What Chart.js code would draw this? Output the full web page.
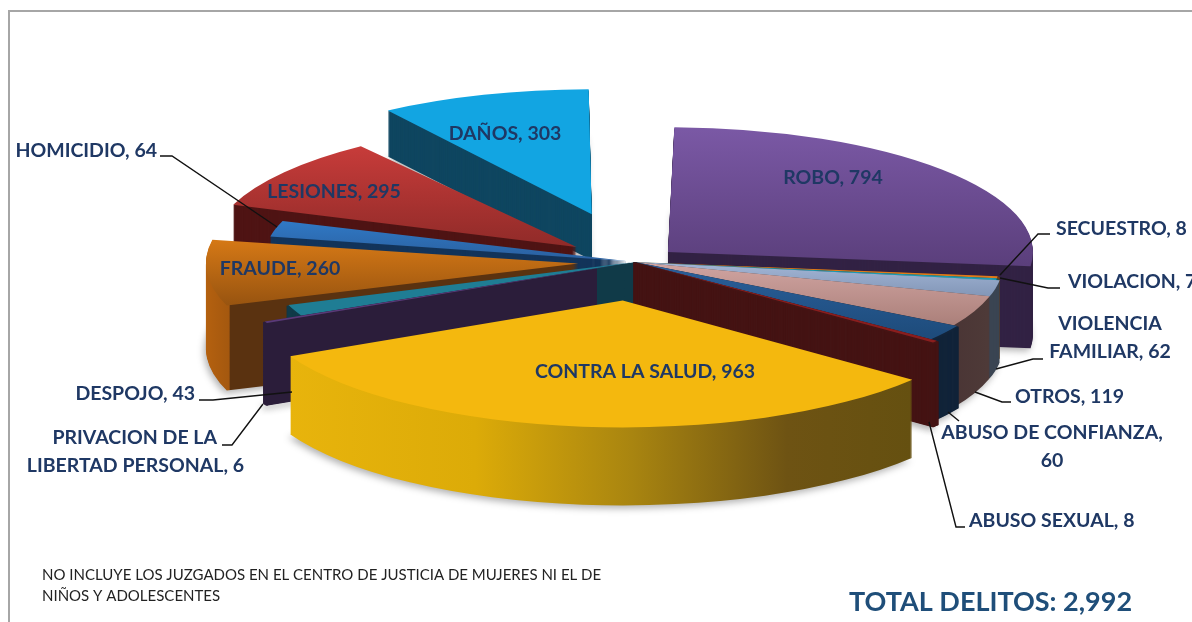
<!DOCTYPE html>
<html lang="es">
<head>
<meta charset="utf-8">
<title>Total delitos</title>
<script src="https://cdn.jsdelivr.net/npm/chart.js@4"></script>
<style>
html,body{margin:0;padding:0;background:#fff;overflow:hidden}
canvas{display:block}
</style>
</head>
<body>
<canvas id="c" width="1192" height="622"></canvas>
<script>
const categories = ["ROBO","SECUESTRO","VIOLACION","VIOLENCIA FAMILIAR","OTROS","ABUSO DE CONFIANZA","ABUSO SEXUAL","CONTRA LA SALUD","PRIVACION DE LA LIBERTAD PERSONAL","DESPOJO","FRAUDE","HOMICIDIO","LESIONES","DAÑOS"];
const values = [794,8,7,62,119,60,8,963,6,43,260,64,295,303];
const totalLabel = "TOTAL DELITOS: 2,992";
const footnote = ["NO INCLUYE LOS JUZGADOS EN EL CENTRO DE JUSTICIA DE MUJERES NI EL DE","NIÑOS Y ADOLESCENTES"];
// explosion of each slice, as a share of the radius
const explode = [.12,0,0,0,0,0,0,.31,0,0,.156,.02,.2,.4];
const rimScale = [1,1,1,1.01,1.01,1.02,1.04,1.015,1.12,1.01,1.02,1,1,1];
const depths = [82,82,82,82,82,82,84,78,82,82,85,80,70,46];
const topColors = ["#6b4c93","#e07a1a","#1a9ab0","#8fa3c6","#c09088","#23568c","#8a1e1e","#f4b80e","#5a3a78","#1f7d94","#b86515","#2c6ab0","#ad3432","#12a5e2"];
const wallColors = ["#322244","#6e3c10","#12505c","#3a4452","#4a3535","#12243a","#451414","#b8900a","#2b1d3a","#103a48","#5a3210","#13345a","#4f1414","#0f4660"];
const drawOrder = [13,12,11,10,9,8,0,1,2,3,4,5,6,7];
const thinSlices = [1,2,5,6,8,9];

const navy = "#1f3864";
const labels = [
  {t:"ROBO, 794",x:833,y:178,a:"center"},
  {t:"SECUESTRO, 8",x:1056,y:229,a:"left"},
  {t:"VIOLACION, 7",x:1068,y:282,a:"left"},
  {t:"VIOLENCIA",x:1110,y:324,a:"center"},
  {t:"FAMILIAR, 62",x:1110,y:352,a:"center"},
  {t:"OTROS, 119",x:1015,y:397,a:"left"},
  {t:"ABUSO DE CONFIANZA,",x:1052,y:433,a:"center"},
  {t:"60",x:1052,y:461,a:"center"},
  {t:"ABUSO SEXUAL, 8",x:969,y:521,a:"left"},
  {t:"CONTRA LA SALUD, 963",x:645,y:372,a:"center"},
  {t:"PRIVACION DE LA",x:217,y:438,a:"right"},
  {t:"LIBERTAD PERSONAL, 6",x:244,y:466,a:"right"},
  {t:"DESPOJO, 43",x:195,y:394,a:"right"},
  {t:"FRAUDE, 260",x:280,y:269,a:"center"},
  {t:"HOMICIDIO, 64",x:157,y:151,a:"right"},
  {t:"LESIONES, 295",x:334,y:192,a:"center"},
  {t:"DAÑOS, 303",x:505,y:134,a:"center"}
];
const leaders = [
  [[160,156],[172,156],[277,227]],
  [[1050,234],[1038,234],[1000,275]],
  [[1060,288],[1048,288],[1000,278]],
  [[1043,359],[1033,359],[996,369]],
  [[1011,402],[1002,402],[975,392]],
  [[948,412],[959,421]],
  [[929,422],[956,527],[965,527]],
  [[199,400],[213,400],[292,392]],
  [[222,445],[232,445],[263,404]]
];

const R = 240, CX = 635, CY = 262, RX = 365, RY = 125;
const SX = RX / R, SY = RY / R;

function translation(arc, off){
  const mid = arc.startAngle + arc.circumference / 2;
  return {x: Math.cos(mid) * off / 4, y: Math.sin(mid) * off / 4};
}
// gradient given in page pixels, mapped to the arc's own drawing space
function grad(ctx, arc, off, depth, x0, y0, x1, y1, stops){
  const t = translation(arc, off);
  const lx = x => arc.x + (x - CX) / SX - t.x;
  const ly = y => arc.y + (y - CY - depth) / SY - t.y;
  const g = ctx.createLinearGradient(lx(x0), ly(y0), lx(x1), ly(y1));
  stops.forEach(s => g.addColorStop(s[0], s[1]));
  return g;
}
function topFill(ctx, arc, i, off){
  const g = (a,b,c,d,st)=>grad(ctx,arc,off,0,a,b,c,d,st);
  switch(i){
    case 0: return g(0,125,0,265,[[0,"#7b59a6"],[1,"#5b3f7c"]]);
    case 3: return g(0,262,0,300,[[0,"#a3b6d6"],[1,"#7f93b4"]]);
    case 4: return g(0,265,0,325,[[0,"#cfa3a0"],[1,"#ab807a"]]);
    case 5: return g(0,265,0,335,[[0,"#2a5f9a"],[1,"#1e4c7c"]]);
    case 10: return g(0,237,0,305,[[0,"#d87a16"],[1,"#985410"]]);
    case 11: return g(0,220,0,262,[[0,"#3079c6"],[1,"#2a5f9e"]]);
    case 12: return g(0,145,0,250,[[0,"#c83c3a"],[1,"#8e2a28"]]);
    default: return topColors[i];
  }
}
function wallFill(ctx, arc, i, off, d){
  const g = (st)=>grad(ctx,arc,off,d,st.x0,0,st.x1,0,st.s);
  switch(i){
    case 7: return g({x0:288,x1:912,s:[[0,"#e8b40c"],[.3,"#dcab08"],[.55,"#a98510"],[.8,"#6e5313"],[1,"#655010"]]});
    case 8: return g({x0:263,x1:635,s:[[0,"#2b1d3a"],[.897,"#2b1d3a"],[.898,"#103a48"],[1,"#103a48"]]});
    case 10: return g({x0:205,x1:260,s:[[0,"#b5610f"],[.44,"#a4580f"],[.455,"#5a3210"],[1,"#5a3210"]]});
    case 4: return g({x0:953,x1:987,s:[[0,"#4a3535"],[1,"#4e3a38"]]});
    default: return wallColors[i];
  }
}

const pseudo3d = {
  id:"pseudo3d",
  beforeDatasetsDraw(chart){
    const ctx = chart.ctx, meta = chart.getDatasetMeta(0);
    drawOrder.forEach(i=>{
      const arc = meta.data[i];
      const saved = arc.options, savedR = arc.outerRadius;
      const off = saved.offset || 0;
      const quarter = off / 4;
      const fix = 1 - Math.sin(Math.min(Math.PI, arc.circumference));
      const thin = thinSlices.includes(i);
      arc.outerRadius = R * rimScale[i] - quarter * fix;
      const paint = (d, fill, shadow, edge)=>{
        ctx.save();
        ctx.translate(CX, CY + d);
        ctx.scale(SX, SY);
        ctx.translate(-arc.x, -arc.y);
        if(shadow){ ctx.shadowColor="rgba(0,0,0,.3)"; ctx.shadowBlur=7; ctx.shadowOffsetX=-2; ctx.shadowOffsetY=3; }
        arc.options = {backgroundColor:fill,borderColor:fill,borderWidth:edge,borderDash:[],borderDashOffset:0,borderJoinStyle:"round",offset:off,spacing:0,circular:true,borderAlign:"center"};
        arc.draw(ctx);
        ctx.restore();
      };
      const depth = depths[i];
      for(let d = depth; d >= 1; d -= thin ? .5 : 1){
        paint(d, wallFill(ctx, arc, i, off, d), d === depth, thin ? 2.5 : 0);
      }
      paint(0, topFill(ctx, arc, i, off), false, 0);
      arc.options = saved; arc.outerRadius = savedR;
    });
    return false;
  },
  afterDraw(chart){
    const ctx = chart.ctx;
    ctx.save();
    // frame
    ctx.fillStyle = "#a6a6a6";
    ctx.fillRect(8, 10, 1184, 2);
    ctx.fillRect(8, 10, 2, 612);
    // leader lines
    ctx.strokeStyle = "#111"; ctx.lineWidth = 1.4;
    leaders.forEach(p=>{
      ctx.beginPath();
      p.forEach((q,k)=> k ? ctx.lineTo(q[0],q[1]) : ctx.moveTo(q[0],q[1]));
      ctx.stroke();
    });
    // data labels
    ctx.fillStyle = navy; ctx.textBaseline = "middle";
    ctx.font = "700 19.5px Lato, 'Open Sans', sans-serif";
    labels.forEach(l=>{ ctx.textAlign = l.a; ctx.fillText(l.t, l.x, l.y); });
    // footnote
    ctx.fillStyle = "#222"; ctx.textAlign = "left";
    ctx.font = "400 15px Lato, 'Open Sans', sans-serif";
    ctx.fillText(footnote[0], 42, 575);
    ctx.fillText(footnote[1], 42, 596);
    // total
    ctx.fillStyle = "#1f4e79";
    ctx.font = "700 27px Lato, 'Open Sans', sans-serif";
    ctx.fillText(totalLabel, 849, 602);
    ctx.restore();
  }
};

new Chart(document.getElementById("c"), {
  type:"pie",
  data:{labels:categories,datasets:[{
    data:values,
    backgroundColor:topColors,
    borderWidth:0,
    offset:explode.map(e=>e*4*R)
  }]},
  options:{
    responsive:false,
    animation:false,
    rotation:1,
    radius:R,
    layout:{padding:0},
    plugins:{legend:{display:false},tooltip:{enabled:false},title:{display:false}}
  },
  plugins:[pseudo3d]
});
</script>
</body>
</html>
